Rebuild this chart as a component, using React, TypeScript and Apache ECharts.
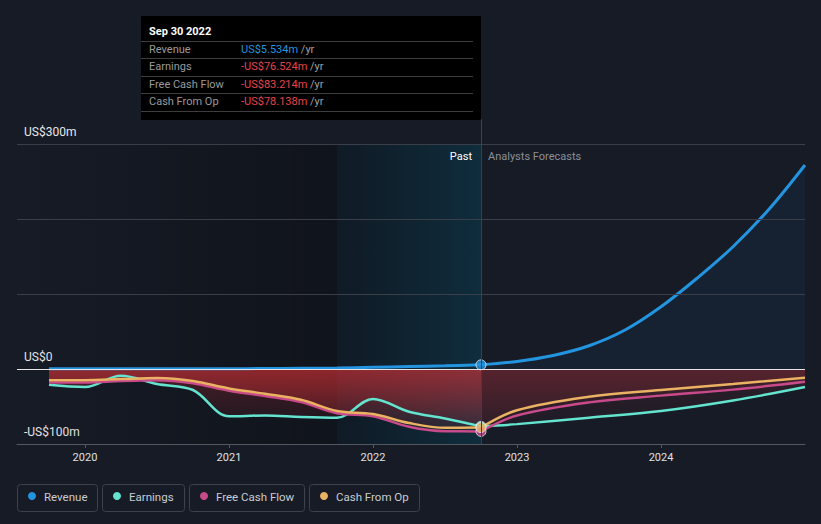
import React, { useEffect, useRef } from "react";
import * as echarts from "echarts";

// ---------- data ----------
const yearTicks = [2020, 2021, 2022, 2023, 2024];
const yLabelValues = [-100, 0, 300];
const gridValues = [100, 200, 300];

const xMin = 2019.528;
const xMax = 2025.0;
const yMin = -100;
const yMax = 333.3;

const bandStart = 2021.75;
const pastEnd = 2022.75;
const tooltipDate = "Sep 30 2022";

const pastX = [2019.75, 2020.0, 2020.25, 2020.5, 2020.75, 2021.0, 2021.25, 2021.5, 2021.75, 2022.0, 2022.25, 2022.5, 2022.75];
const revenuePast = [0.3, 0.3, 0.3, 0.3, 0.3, 0.4, 0.6, 0.9, 1.3, 2.2, 3.2, 4.3, 5.534];
const earningsPast = [-21, -24, -9, -20, -28, -63, -62, -64, -65, -40, -57, -66, -76.524];
const fcfPast = [-18, -18, -16, -15, -19, -29, -36, -44, -59, -63, -77, -83, -83.214];
const opPast = [-15, -15, -13.5, -12, -16, -26, -33, -41, -56, -60, -72, -78.5, -78.138];

const revenueForecastX = [2022.75, 2023.0, 2023.25, 2023.5, 2023.75, 2024.0, 2024.25, 2024.5, 2024.75, 2025.0];
const revenueForecast = [5.534, 10, 18, 31, 52, 83, 121, 163, 213, 272];

const cashForecastX = [2022.75, 2023.0, 2023.5, 2024.0, 2024.5, 2025.0];
const earningsForecast = [-76.524, -73.5, -65, -56, -42, -24];
const fcfForecast = [-83.214, -62, -44.5, -35.5, -27.5, -17];
const opForecast = [-78.138, -55, -37, -28, -20, -11.6];

const seriesNames = ["Revenue", "Earnings", "Free Cash Flow", "Cash From Op"];
const seriesColors = ["#2394df", "#64e3cf", "#c94a8b", "#eab262"];

// ---------- helpers ----------
const BG = "#161b26";
const FONT = "Roboto";

const pairs = (xs: number[], ys: number[]) => xs.map((x, i) => [x, ys[i]]);
const fmtAxis = (v: number) => (v === 0 ? "US$0" : v < 0 ? `-US$${-v}m` : `US$${v}m`);
const fmtVal = (v: number) => (v < 0 ? `-US$${(-v).toFixed(3)}m` : `US$${v.toFixed(3)}m`);

const vGrad = (c: string, a0: number, a1: number) =>
  new echarts.graphic.LinearGradient(0, 0, 0, 1, [
    { offset: 0, color: `rgba(${c},${a0})` },
    { offset: 1, color: `rgba(${c},${a1})` },
  ]);

const lineSeries = (name: string, color: string, data: number[][], area: any, width = 2.5) => ({
  type: "line",
  name,
  data,
  smooth: 0.35,
  symbol: "none",
  z: 2,
  lineStyle: { color, width },
  itemStyle: { color },
  areaStyle: area,
  silent: true,
});

export default function App() {
  const ref = useRef<HTMLDivElement>(null);

  useEffect(() => {
    if (!ref.current) return;
    const chart = echarts.init(ref.current, undefined, { renderer: "svg" });

    const redPast = { color: vGrad("225,50,55", 0.38, 0.08), origin: 0 };
    const redFc = { color: vGrad("205,50,58", 0.19, 0.06), origin: 0 };

    const endPoints = [
      { v: earningsPast[earningsPast.length - 1], c: seriesColors[1] },
      { v: fcfPast[fcfPast.length - 1], c: seriesColors[2] },
      { v: opPast[opPast.length - 1], c: seriesColors[3] },
      { v: revenuePast[revenuePast.length - 1], c: seriesColors[0] },
    ];

    const tooltipRows = [
      { label: seriesNames[0], v: revenuePast[revenuePast.length - 1] },
      { label: seriesNames[1], v: earningsPast[earningsPast.length - 1] },
      { label: seriesNames[2], v: fcfPast[fcfPast.length - 1] },
      { label: seriesNames[3], v: opPast[opPast.length - 1] },
    ];

    const tipX = 141, tipY = 16, tipW = 340, tipH = 104;
    const sepYs = [41.5, 58.5, 76.5, 93.5, 111.5];
    const rowYs = [49.5, 66.5, 84, 101.5];

    const graphics: any[] = [];
    graphics.push({ type: "rect", shape: { x: tipX, y: tipY, width: tipW, height: tipH }, style: { fill: "#000" }, z: 100 });
    graphics.push({
      type: "text", x: 149, y: 31, z: 101,
      style: { text: tooltipDate, fill: "#ffffff", fontSize: 11, fontWeight: "bold", fontFamily: FONT, verticalAlign: "middle" },
    });
    sepYs.forEach((y) =>
      graphics.push({ type: "line", z: 101, shape: { x1: tipX, y1: y, x2: 473, y2: y }, style: { stroke: "#3d3d3d", lineWidth: 1 } })
    );
    tooltipRows.forEach((r, i) => {
      graphics.push({
        type: "text", x: 149, y: rowYs[i], z: 101,
        style: { text: r.label, fill: "#9a9a9a", fontSize: 11, fontFamily: FONT, verticalAlign: "middle" },
      });
      graphics.push({
        type: "text", x: 241, y: rowYs[i], z: 101,
        style: {
          text: `{v|${fmtVal(r.v)}} {u|/yr}`,
          verticalAlign: "middle",
          fontSize: 11,
          fontFamily: FONT,
          rich: {
            v: { fill: r.v < 0 ? "#e8434a" : "#2394df", fontSize: 11, fontFamily: FONT },
            u: { fill: "#a0a0a0", fontSize: 11, fontFamily: FONT },
          },
        },
      });
    });

    // Past / Analysts Forecasts labels
    graphics.push({
      type: "text", x: 472, y: 156, z: 50,
      style: { text: "Past", fill: "#ffffff", fontSize: 11, fontFamily: FONT, align: "right", verticalAlign: "middle" },
    });
    graphics.push({
      type: "text", x: 488, y: 156, z: 50,
      style: { text: "Analysts Forecasts", fill: "#8a8f98", fontSize: 11, fontFamily: FONT, verticalAlign: "middle" },
    });

    // Legend boxes
    const legendX = [17, 102, 189, 309];
    const legendW = [80, 82, 115, 110];
    seriesNames.forEach((n, i) => {
      graphics.push({
        type: "rect", z: 50,
        shape: { x: legendX[i] + 0.5, y: 484.5, width: legendW[i], height: 27, r: 3 },
        style: { fill: "transparent", stroke: "#3c414b", lineWidth: 1 },
      });
      graphics.push({
        type: "circle", z: 51,
        shape: { cx: legendX[i] + 15, cy: 496, r: 4 },
        style: { fill: seriesColors[i] },
      });
      graphics.push({
        type: "text", x: legendX[i] + 27, y: 497, z: 51,
        style: { text: n, fill: "#c9ccd1", fontSize: 11.5, fontFamily: FONT, verticalAlign: "middle" },
      });
    });

    const option: any = {
      animation: false,
      backgroundColor: BG,
      grid: { left: 17, right: 16, top: 119, bottom: 80, containLabel: false },
      xAxis: {
        type: "value",
        min: xMin,
        max: xMax,
        axisLine: { show: true, onZero: false, lineStyle: { color: "#53575f", width: 1 } },
        axisTick: { show: true, customValues: yearTicks, length: 4, lineStyle: { color: "#53575f" } },
        axisLabel: {
          customValues: yearTicks,
          color: "#e0e0e0",
          fontSize: 11,
          fontFamily: FONT,
          margin: 8,
          formatter: (v: number) => String(Math.round(v)),
        },
        splitLine: { show: false },
      },
      yAxis: {
        type: "value",
        min: yMin,
        max: yMax,
        axisLine: { show: false },
        axisTick: { show: false },
        splitLine: { show: false },
        axisLabel: {
          inside: true,
          customValues: yLabelValues,
          formatter: fmtAxis,
          color: "#e8e8e8",
          fontSize: 12,
          fontFamily: FONT,
          verticalAlign: "bottom",
          padding: [0, 0, 6, 0],
          margin: 7,
        },
      },
      graphic: graphics,
      series: [
        {
          type: "line",
          name: "bg",
          data: [],
          z: 1,
          silent: true,
          markArea: {
            silent: true,
            data: [
              [
                {
                  xAxis: xMin,
                  yAxis: 300,
                  itemStyle: {
                    color: new echarts.graphic.LinearGradient(0, 0, 1, 0, [
                      { offset: 0, color: "rgba(0,0,0,0)" },
                      { offset: 1, color: "rgba(0,0,0,0.28)" },
                    ]),
                  },
                },
                { xAxis: bandStart, yAxis: yMin },
              ],
            ],
          },
          markLine: {
            silent: true,
            symbol: "none",
            label: { show: false },
            data: [
              ...gridValues.map((g) => ({ yAxis: g, lineStyle: { color: "#393e48", width: 1, type: "solid" } })),
              { yAxis: 0, lineStyle: { color: "#e6e6e6", width: 1, type: "solid" } },
            ],
          },
        },
        lineSeries(seriesNames[1], seriesColors[1], pairs(pastX, earningsPast), redPast),
        lineSeries(seriesNames[2], seriesColors[2], pairs(pastX, fcfPast), redPast),
        lineSeries(seriesNames[3], seriesColors[3], pairs(pastX, opPast), redPast),
        lineSeries(seriesNames[1], seriesColors[1], pairs(cashForecastX, earningsForecast), redFc),
        lineSeries(seriesNames[2], seriesColors[2], pairs(cashForecastX, fcfForecast), redFc),
        lineSeries(seriesNames[3], seriesColors[3], pairs(cashForecastX, opForecast), redFc),
        lineSeries(seriesNames[0], seriesColors[0], pairs(pastX, revenuePast), undefined, 3),
        lineSeries(seriesNames[0], seriesColors[0], pairs(revenueForecastX, revenueForecast), { color: "rgba(35,148,223,0.09)", origin: 0 }, 3),
        {
          type: "line",
          name: "band",
          data: [],
          z: 3,
          silent: true,
          markArea: {
            silent: true,
            data: [
              [
                {
                  xAxis: bandStart,
                  yAxis: 300,
                  itemStyle: {
                    color: new echarts.graphic.LinearGradient(0, 0, 1, 0, [
                      { offset: 0, color: "rgba(0,25,35,0.3)" },
                      { offset: 1, color: "rgba(0,80,105,0.34)" },
                    ]),
                  },
                },
                { xAxis: pastEnd, yAxis: yMin },
              ],
            ],
          },
        },
        ...endPoints.map((p) => ({
          type: "scatter",
          z: 4,
          silent: true,
          symbol: "circle",
          symbolSize: 10,
          itemStyle: { color: p.c, borderColor: "#e8eef2", borderWidth: 1 },
          data: [[pastEnd, p.v]],
        })),
      ],
    };

    chart.setOption(option);

    // divider line at the end of the past period, positioned via the axis scale
    const top = chart.convertToPixel({ gridIndex: 0 }, [pastEnd, yMax]) as number[];
    const bottom = chart.convertToPixel({ gridIndex: 0 }, [pastEnd, yMin]) as number[];
    const dx = Math.round(top[0]) + 0.5;
    chart.setOption({
      graphic: [
        ...graphics,
        {
          type: "line",
          z: 5,
          silent: true,
          shape: { x1: dx, y1: top[1], x2: dx, y2: bottom[1] },
          style: { stroke: "#1a4b60", lineWidth: 1 },
        },
      ],
    });

    return () => chart.dispose();
  }, []);

  return (
    <div
      ref={ref}
      style={{ position: "absolute", left: 0, top: 0, width: 821, height: 524, background: BG }}
    />
  );
}
